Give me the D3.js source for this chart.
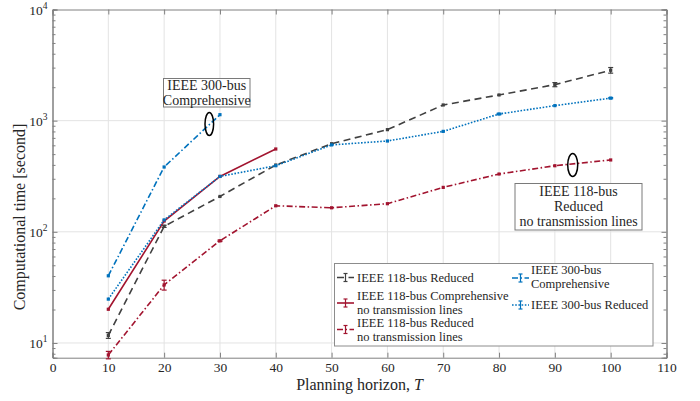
<!DOCTYPE html>
<html><head><meta charset="utf-8">
<script src="https://cdn.jsdelivr.net/npm/d3@7"></script>
<style>
body{margin:0;background:#fff}
svg{display:block}
text{font-family:"Liberation Serif","Times New Roman",serif;fill:#262626}
</style>
</head><body>
<svg id="c" width="700" height="401" font-family="Liberation Serif, serif"></svg>
<script>
// ---------------- data ----------------
const horizons = [10,20,30,40,50,60,70,80,90,100];
const horizons4 = [10,20,30,40];
const horizons3 = [10,20,30];

const bus118Reduced      = [11.7,112,208,399,620,830,1384,1703,2110,2840];
const bus118ReducedErr   = [0.7,2.5,0,0,0,0,0,0,90,165];

const bus118CompNoTL     = [20.1,125,315,556];
const bus118CompNoTLErr  = [0,0,0,0];

const bus118RedNoTL      = [7.8,33.3,83,171.5,164.5,179,251,331,393,443];
const bus118RedNoTLErr   = [0.6,3.4,1.2,0,0,0,0,0,0,0];

const bus300Comp         = [40.2,383,1132];
const bus300CompErr      = [0,0,0];

const bus300Reduced      = [24.8,128,315,393,605,656,801,1148,1365,1595];
const bus300ReducedErr   = [0,0,0,0,0,0,0,15,0,20];

const xTicks = [0,10,20,30,40,50,60,70,80,90,100,110];
const yMajorExp = [1,2,3,4];

const legendNames = [
  ["IEEE 118-bus Reduced"],
  ["IEEE 118-bus Comprehensive","no transmission lines"],
  ["IEEE 118-bus Reduced","no transmission lines"],
  ["IEEE 300-bus","Comprehensive"],
  ["IEEE 300-bus Reduced"]
];
const xLabel = "Planning horizon, ";
const yLabel = "Computational time [second]";
const note300 = ["IEEE 300-bus","Comprehensive"];
const note118 = ["IEEE 118-bus","Reduced","no transmission lines"];

// ---------------- styles ----------------
const C_GRAY="#404040", C_RED="#A2142F", C_BLUE="#0072BD";
const series = [
  {x:horizons,  y:bus118Reduced,  e:bus118ReducedErr,  color:C_GRAY, dash:"7,4.5", w:1.6},
  {x:horizons4, y:bus118CompNoTL, e:bus118CompNoTLErr, color:C_RED,  dash:null,    w:1.6},
  {x:horizons,  y:bus118RedNoTL,  e:bus118RedNoTLErr,  color:C_RED,  dash:"6,2.5,1.5,2.5", w:1.6},
  {x:horizons3, y:bus300Comp,     e:bus300CompErr,     color:C_BLUE, dash:"6,2.5,1.5,2.5", w:1.6},
  {x:horizons,  y:bus300Reduced,  e:bus300ReducedErr,  color:C_BLUE, dash:"1.6,1.6", w:1.6}
];

const svg = d3.select("#c");
const L=52.5, R=666.5, T=9.5, B=357.7;
const x = d3.scaleLinear().domain([0,110]).range([L,R]);
const y = d3.scaleLog().domain([7.37,10000]).range([B,T]);

// grid
const grid = svg.append("g");
xTicks.slice(1,-1).forEach(t=>{
  grid.append("line").attr("x1",x(t)).attr("x2",x(t)).attr("y1",T).attr("y2",B)
    .attr("stroke","#e3e3e3").attr("stroke-width",1);
});
yMajorExp.slice(0,-1).forEach(p=>{
  grid.append("line").attr("x1",L).attr("x2",R).attr("y1",y(Math.pow(10,p))).attr("y2",y(Math.pow(10,p)))
    .attr("stroke","#e3e3e3").attr("stroke-width",1);
});

// axes via d3 axes (ticks inward)
const axCol="#808080";
const xb = svg.append("g").attr("transform",`translate(0,${B})`)
  .call(d3.axisBottom(x).tickValues(xTicks).tickSize(-5).tickFormat(d=>d).tickPadding(5));
const xt = svg.append("g").attr("transform",`translate(0,${T})`)
  .call(d3.axisTop(x).tickValues(xTicks).tickSize(-5).tickFormat(""));
const minors=[];
for(let p=0;p<4;p++) for(let k=2;k<=9;k++){const v=k*Math.pow(10,p); if(v>=7.37&&v<=10000) minors.push(v);}
const majors = yMajorExp.map(p=>Math.pow(10,p));
const yl = svg.append("g").attr("transform",`translate(${L},0)`)
  .call(d3.axisLeft(y).tickValues(majors).tickSize(-5).tickFormat(""));
const ylm = svg.append("g").attr("transform",`translate(${L},0)`)
  .call(d3.axisLeft(y).tickValues(minors).tickSize(-3).tickFormat(""));
const yr = svg.append("g").attr("transform",`translate(${R},0)`)
  .call(d3.axisRight(y).tickValues(majors).tickSize(-5).tickFormat(""));
const yrm = svg.append("g").attr("transform",`translate(${R},0)`)
  .call(d3.axisRight(y).tickValues(minors).tickSize(-3).tickFormat(""));
[xb,xt,yl,ylm,yr,yrm].forEach(g=>{
  g.attr("font-family",null);
  g.selectAll("path").attr("stroke",axCol).attr("stroke-width",1);
  g.selectAll("line").attr("stroke",axCol);
});
xb.selectAll("text").attr("font-size",13.5).attr("fill","#262626");
// y tick labels 10^n
majors.forEach((v,i)=>{
  const t = svg.append("text").attr("x",L-5).attr("y",y(v)+5).attr("text-anchor","end").attr("font-size",13.5);
  t.append("tspan").text("10");
  t.append("tspan").attr("dy",-6).attr("font-size",9.5).text(yMajorExp[i]);
});

// axis labels
svg.append("text").attr("x",(L+R)/2).attr("y",390).attr("text-anchor","middle").attr("font-size",16)
  .text(xLabel).append("tspan").attr("font-style","italic").text("T");
svg.append("text").attr("transform","translate(25,217) rotate(-90)").attr("text-anchor","middle")
  .attr("font-size",16).text(yLabel);

// ---------------- series ----------------
const plot = svg.append("g");
const line = d3.line().x(d=>x(d[0])).y(d=>y(d[1]));
function drawErr(g,cx,v,e,color){
  if(!e) return;
  const y1=y(v-e), y2=y(v+e);
  g.append("line").attr("x1",cx).attr("x2",cx).attr("y1",y1).attr("y2",y2).attr("stroke",color).attr("stroke-width",1.2);
  [y1,y2].forEach(yy=>g.append("line").attr("x1",cx-2.5).attr("x2",cx+2.5).attr("y1",yy).attr("y2",yy).attr("stroke",color).attr("stroke-width",1.2));
}
series.forEach(s=>{
  const pts = s.x.map((xv,i)=>[xv,s.y[i]]);
  plot.append("path").attr("d",line(pts)).attr("fill","none").attr("stroke",s.color)
    .attr("stroke-width",s.w).attr("stroke-dasharray",s.dash);
  pts.forEach((p,i)=>{
    drawErr(plot,x(p[0]),p[1],s.e[i],s.color);
    plot.append("rect").attr("x",x(p[0])-1.6).attr("y",y(p[1])-1.6).attr("width",3.2).attr("height",3.2).attr("fill",s.color);
  });
});

// ---------------- annotations ----------------
function noteBox(lines,x0,y0,w,h,fs,lh,firstY){
  svg.append("rect").attr("x",x0).attr("y",y0).attr("width",w).attr("height",h)
    .attr("fill","#fff").attr("stroke","#7a7a7a").attr("stroke-width",1);
  lines.forEach((t,i)=>svg.append("text").attr("x",x0+w/2).attr("y",y0+firstY+i*lh)
    .attr("text-anchor","middle").attr("font-size",fs).text(t));
}
noteBox(note300,163.5,78.5,86.5,28.5,14,14.5,11.5);
noteBox(note118,515,183.5,127,46.5,14,15,12.5);
svg.append("ellipse").attr("cx",209.3).attr("cy",124).attr("rx",4.3).attr("ry",11.5)
  .attr("fill","none").attr("stroke","#000").attr("stroke-width",1.5);
svg.append("ellipse").attr("cx",572.7).attr("cy",165).attr("rx",5).attr("ry",11.5)
  .attr("fill","none").attr("stroke","#000").attr("stroke-width",1.5);

// ---------------- legend ----------------
const lg = svg.append("g");
lg.append("rect").attr("x",334.5).attr("y",263.5).attr("width",318.5).attr("height",82.5)
  .attr("fill","#fff").attr("stroke","#8c8c8c").attr("stroke-width",1);
const legPos = [
  {sx:337, sy:277.5, tx:357, ty:[281.5]},
  {sx:337, sy:303,   tx:357, ty:[300,314]},
  {sx:337, sy:329.5, tx:357, ty:[326.5,340.5]},
  {sx:512, sy:278,   tx:531, ty:[274,288]},
  {sx:512, sy:305,   tx:531, ty:[309]}
];
series.forEach((s,i)=>{
  const p=legPos[i];
  lg.append("line").attr("x1",p.sx).attr("x2",p.sx+17).attr("y1",p.sy).attr("y2",p.sy)
    .attr("stroke",s.color).attr("stroke-width",s.w).attr("stroke-dasharray",s.dash);
  const cx=p.sx+8.5;
  lg.append("line").attr("x1",cx).attr("x2",cx).attr("y1",p.sy-4).attr("y2",p.sy+4).attr("stroke",s.color).attr("stroke-width",1.2);
  [p.sy-4,p.sy+4].forEach(yy=>lg.append("line").attr("x1",cx-2).attr("x2",cx+2).attr("y1",yy).attr("y2",yy).attr("stroke",s.color).attr("stroke-width",1.2));
  legendNames[i].forEach((t,j)=>lg.append("text").attr("x",p.tx).attr("y",p.ty[j]).attr("font-size",12.5).text(t));
});
</script>
</body></html>
